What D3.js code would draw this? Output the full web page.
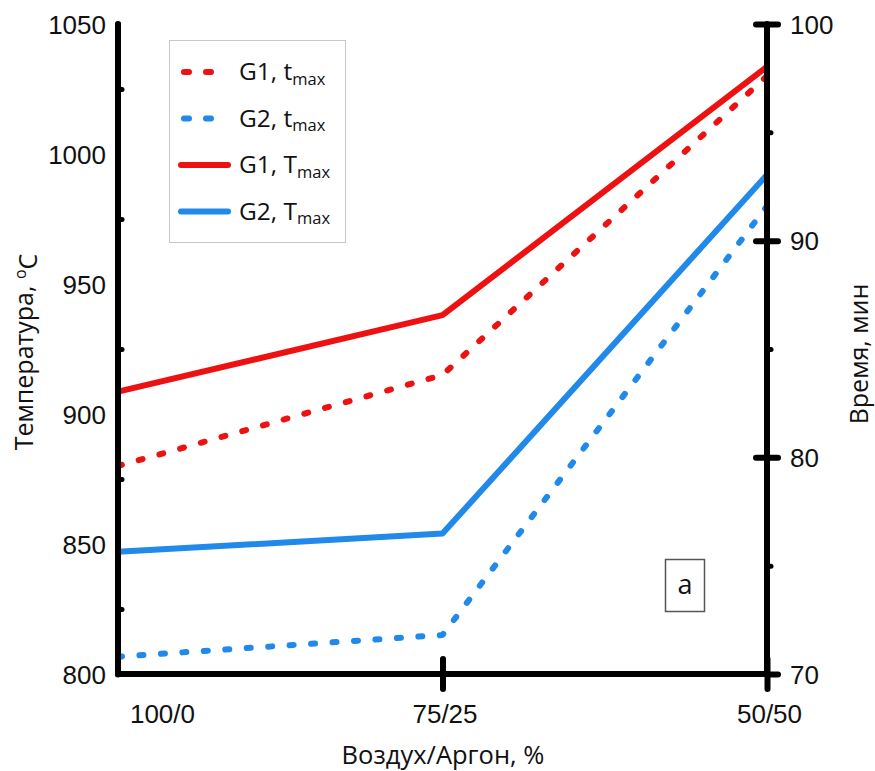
<!DOCTYPE html>
<html>
<head>
<meta charset="utf-8">
<script src="https://cdn.jsdelivr.net/npm/d3@7"></script>
<style>
  body { margin: 0; background: #fff; }
  svg { font-family: "Open Sans", sans-serif; }
</style>
</head>
<body>
<svg id="chart" width="875" height="771"></svg>
<script>
// Gas mixture composition (air / argon), %
const categories = ["100/0", "75/25", "50/50"];

// Maximum temperature T_max, °C (left axis)
const g1Tmax = [908.6, 938, 1033.6];
const g2Tmax = [847, 854, 992];

// Time to reach the maximum t_max, min (right axis)
const g1tmax = [79.6, 83.8, 97.6];
const g2tmax = [70.8, 71.8, 91.6];

const tempTicks = [800, 850, 900, 950, 1000, 1050];
const tempMinor = [825, 875, 925, 975, 1025];
const timeTicks = [70, 80, 90, 100];
const timeMinor = [75, 85, 95];

const RED = "#ee1111", BLUE = "#2189ea";

const svg = d3.select("#chart");
const plotL = 118, plotR = 767, plotT = 24, plotB = 674;

const x = d3.scalePoint().domain(categories).range([plotL, plotR]);
const yT = d3.scaleLinear().domain([800, 1050]).range([plotB, plotT]);
const yR = d3.scaleLinear().domain([70, 100]).range([plotB, plotT]);

const fontSize = 26;

// ---- data lines ----
const series = [
  { vals: g1tmax, scale: yR, color: RED, dotted: true },
  { vals: g2tmax, scale: yR, color: BLUE, dotted: true },
  { vals: g1Tmax, scale: yT, color: RED, dotted: false },
  { vals: g2Tmax, scale: yT, color: BLUE, dotted: false }
];
const linesG = svg.append("g");
series.forEach(s => {
  const line = d3.line().x((d, i) => x(categories[i])).y(d => s.scale(d));
  linesG.append("path")
    .attr("d", line(s.vals))
    .attr("fill", "none")
    .attr("stroke", s.color)
    .attr("stroke-width", 6)
    .attr("stroke-linecap", s.dotted ? "round" : "butt")
    .attr("stroke-linejoin", "round")
    .attr("stroke-dasharray", s.dotted ? "4,17.5" : null);
});

// ---- axes ----
function styleAxis(g) {
  g.selectAll(".domain").attr("stroke", "#000").attr("stroke-width", 6).attr("stroke-linecap", "round");
  g.selectAll(".tick line").attr("stroke", "#000").attr("stroke-width", 6).attr("stroke-linecap", "round");
  g.selectAll("text").attr("fill", "#111").style("font-size", fontSize + "px");
}

// left temperature axis
const gL = svg.append("g").attr("transform", `translate(${plotL},0)`)
  .call(d3.axisLeft(yT).tickValues(tempTicks).tickSize(0).tickPadding(12).tickFormat(d3.format("d")))
  .call(styleAxis);
gL.selectAll(".domain").attr("d", `M0,${plotT}V${plotB}`);
gL.selectAll("text").attr("dy", "0.35em");

// left minor ticks
const gLm = svg.append("g").attr("transform", `translate(${plotL},0)`)
  .call(d3.axisRight(yT).tickValues(tempMinor).tickSize(4).tickFormat(""));
gLm.select(".domain").remove();
gLm.selectAll(".tick line").attr("stroke", "#000").attr("stroke-width", 5).attr("stroke-linecap", "round");

// right time axis
const gR = svg.append("g").attr("transform", `translate(${plotR},0)`)
  .call(d3.axisRight(yR).tickValues(timeTicks).tickSize(13).tickPadding(10).tickFormat(d3.format("d")))
  .call(styleAxis);
gR.selectAll(".domain").attr("d", `M0,${plotT}V${plotB}`);
gR.selectAll(".tick line").attr("x1", d => d === 70 ? 0 : -11).attr("x2", 11);
gR.selectAll("text").attr("dy", "0.35em");

const gRm = svg.append("g").attr("transform", `translate(${plotR},0)`)
  .call(d3.axisRight(yR).tickValues(timeMinor).tickSize(4).tickFormat(""));
gRm.select(".domain").remove();
gRm.selectAll(".tick line").attr("stroke", "#000").attr("stroke-width", 5).attr("stroke-linecap", "round");

// bottom category axis
const gB = svg.append("g").attr("transform", `translate(0,${plotB})`)
  .call(d3.axisBottom(x).tickSize(15).tickPadding(16))
  .call(styleAxis);
gB.selectAll(".domain").attr("d", `M${plotL},0H${plotR}`);
gB.selectAll(".tick line")
  .attr("y1", -15).attr("y2", 15)
  .attr("display", d => d === categories[0] ? "none" : null);
gB.selectAll(".tick text")
  .attr("dx", d => d === categories[0] ? 44 : 2);

// ---- axis titles ----
svg.append("text")
  .attr("x", 443).attr("y", 764)
  .attr("text-anchor", "middle")
  .style("font-size", "25.5px").attr("fill", "#111")
  .text("Воздух/Аргон, %");

const tL = svg.append("text")
  .attr("transform", "translate(33,352) rotate(-90)")
  .attr("text-anchor", "middle")
  .style("font-size", "25px").attr("fill", "#111");
tL.append("tspan").text("Температура, ");
tL.append("tspan").attr("dy", "-0.45em").style("font-size", "16px").text("o");
tL.append("tspan").attr("dy", "0.45em").text("C");

svg.append("text")
  .attr("transform", "translate(868,354) rotate(-90)")
  .attr("text-anchor", "middle")
  .style("font-size", "25px").attr("fill", "#111")
  .text("Время, мин");

// ---- legend ----
const legendItems = [
  { name: "G1, t", color: RED, dotted: true },
  { name: "G2, t", color: BLUE, dotted: true },
  { name: "G1, T", color: RED, dotted: false },
  { name: "G2, T", color: BLUE, dotted: false }
];
const lg = svg.append("g");
lg.append("rect").attr("x", 169.5).attr("y", 40.5).attr("width", 176).attr("height", 202)
  .attr("fill", "#fff").attr("stroke", "#c8c8c8").attr("stroke-width", 1);
legendItems.forEach((it, i) => {
  const cy = 72 + i * 46.5;
  lg.append("line")
    .attr("x1", it.dotted ? 184 : 181).attr("x2", it.dotted ? 212 : 228)
    .attr("y1", cy).attr("y2", cy)
    .attr("stroke", it.color).attr("stroke-width", 6)
    .attr("stroke-linecap", "round")
    .attr("stroke-dasharray", it.dotted ? "5,17" : null);
  const t = lg.append("text").attr("x", 239).attr("y", cy + 8)
    .style("font-size", "24.5px").attr("fill", "#111");
  t.append("tspan").text(it.name);
  t.append("tspan").attr("dy", "0.3em").style("font-size", "16.5px").text("max");
});

// ---- panel label ----
svg.append("rect").attr("x", 665.5).attr("y", 559.5).attr("width", 39).attr("height", 52)
  .attr("fill", "#fff").attr("stroke", "#555").attr("stroke-width", 1.5);
svg.append("text").attr("x", 685).attr("y", 594).attr("text-anchor", "middle")
  .style("font-size", "27px").attr("fill", "#111").text("a");
</script>
</body>
</html>
